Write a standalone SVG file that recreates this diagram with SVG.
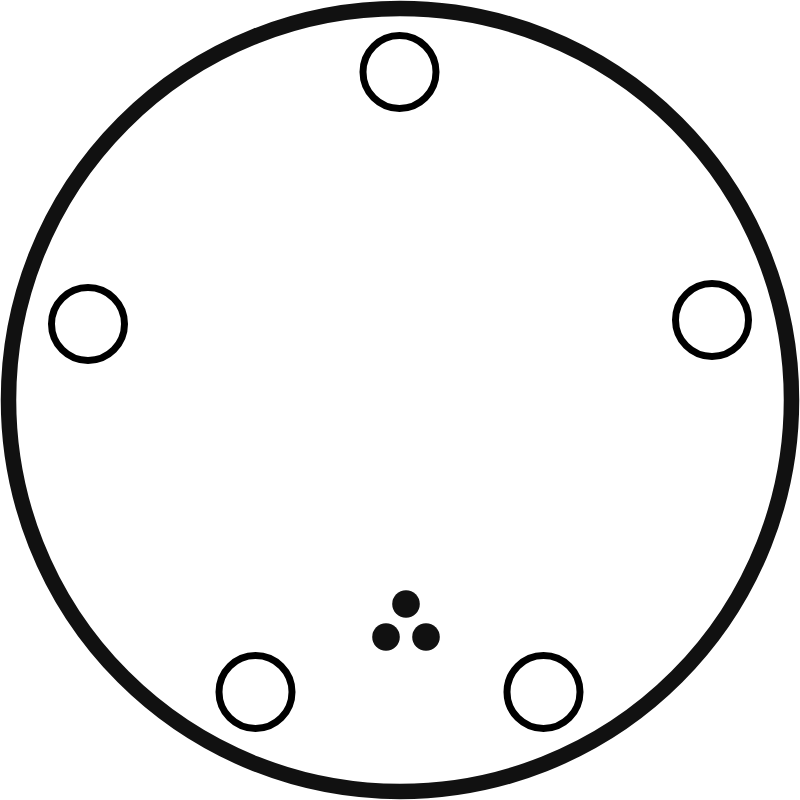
<svg xmlns="http://www.w3.org/2000/svg" width="800" height="800" viewBox="0 0 800 800">
<style>
.ring{fill:none;stroke:#000;stroke-width:7}
.dot{fill:#111}
</style>
<rect width="800" height="800" fill="#fff"/>
<g id="outer"><circle cx="400" cy="400" r="391.5" fill="none" stroke="#111" stroke-width="15.5"/></g>
<g id="hole-top"><circle class="ring" cx="399.5" cy="72" r="36.5"/></g>
<g id="hole-left"><circle class="ring" cx="88" cy="324" r="36.5"/></g>
<g id="hole-right"><circle class="ring" cx="712" cy="320" r="36.5"/></g>
<g id="hole-bottom-left"><circle class="ring" cx="255.5" cy="692" r="36.5"/></g>
<g id="hole-bottom-right"><circle class="ring" cx="543.5" cy="692" r="36.5"/></g>
<g id="dots">
<circle class="dot" cx="406" cy="604" r="13.8"/>
<circle class="dot" cx="386" cy="637" r="13.8"/>
<circle class="dot" cx="426" cy="637" r="13.8"/>
</g>
</svg>
